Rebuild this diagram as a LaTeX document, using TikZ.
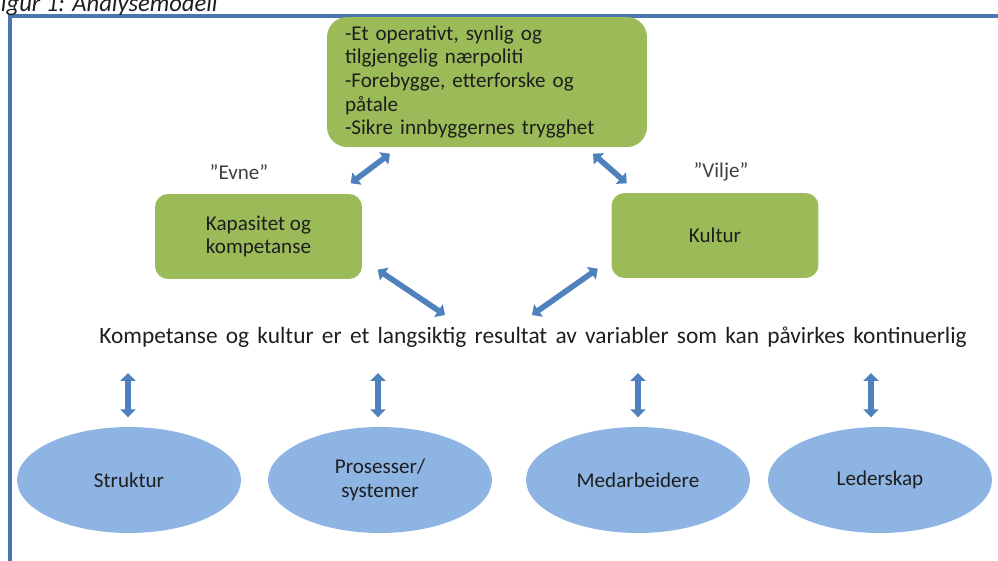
\documentclass[tikz,border=0pt]{standalone}
\usepackage{fontspec}
\setmainfont{Carlito}
\usepackage{xcolor}
\usetikzlibrary{arrows.meta,calc,shapes}
\definecolor{boxgreen}{HTML}{9BBB59}
\definecolor{arrowblue}{HTML}{4F81BD}
\definecolor{ovalblue}{HTML}{8DB4E2}
\definecolor{frameblue}{HTML}{4A76B0}
\definecolor{inktext}{HTML}{1E1E1E}
\tikzset{every scope/.style={>={Triangle[width=8.5pt,length=4.5pt]},thick}}
\tikzstyle{goal_box} =
  [ rectangle
  , rounded corners=0.4cm
  , fill=boxgreen
  , minimum width=6.4cm
  , minimum height=2.6cm
  , text width=5.68cm
  , align=left
  , text=inktext
  , font=\fontsize{12}{13.4}\selectfont
  ]
\tikzstyle{factor_box} =
  [ rectangle
  , rounded corners=0.26cm
  , fill=boxgreen
  , minimum width=4.14cm
  , minimum height=1.7cm
  , align=center
  , text=inktext
  , font=\fontsize{12}{13.4}\selectfont
  ]
\tikzstyle{variable_oval} =
  [ ellipse
  , fill=ovalblue
  , minimum width=4.48cm
  , minimum height=2.12cm
  , inner sep=0pt
  , align=center
  , text=inktext
  , font=\fontsize{12}{13.4}\selectfont
  ]
\tikzstyle{quote_label} =
  [ text=black!75
  , font=\fontsize{12}{13}\selectfont
  ]
\tikzstyle{fat_link} =
  [ <->
  , draw=arrowblue
  , line width=3.2pt
  ]
\def\GoalText{-Et operativt, synlig og\\tilgjengelig nærpoliti\\-Forebygge, etterforske og\\påtale\\-Sikre innbyggernes trygghet}
\def\ResultText{\spaceskip=4.7pt\relax Kompetanse og kultur er et langsiktig resultat av variabler som kan påvirkes kontinuerlig}

\begin{document}
\begin{tikzpicture}[x=0.02cm, y=-0.02cm]
    \useasboundingbox (0,0) rectangle (998,561);
    \draw[draw=frameblue, line width=2pt] (10,16) rectangle (1020,600);
    \node[anchor=base west, font=\fontsize{14}{15}\selectfont\itshape, text=inktext, inner sep=0pt] (caption) at (-11,11) {Figur 1: Analysemodell};

    \node[goal_box]   (goal)     at (487, 82)    {\GoalText};
    \node[factor_box] (capacity) at (258.5, 236.5) {Kapasitet og\\kompetanse};
    \node[factor_box] (culture)  at (715, 235.5)   {Kultur};
    \node[quote_label] (evne)  at (239, 172) {”Evne”};
    \node[quote_label] (vilje) at (721, 172) {”Vilje”};

    \node[text=inktext, font=\fontsize{13.3}{15}\selectfont, inner sep=0pt] (result) at (533, 337) {\ResultText};

    \draw[fat_link] ($(goal.south)+(-97,6)$) -- ($(capacity.north east)+(-12,-10)$);
    \draw[fat_link] ($(goal.south)+(106,6)$) -- ($(culture.north west)+(16,-9)$);
    \draw[fat_link] ($(capacity.south east)+(15,-10)$) -- ($(result.center)+(-88,-22)$);
    \draw[fat_link] ($(culture.south west)+(-13,-10)$) -- ($(result.center)+(-1,-22)$);

    \node[variable_oval] (struktur)     at (129, 480) {Struktur};
    \node[variable_oval] (prosesser)    at (380, 480) {Prosesser/\\systemer};
    \node[variable_oval] (medarbeidere) at (638, 480) {Medarbeidere};
    \node[variable_oval] (lederskap)    at (880, 480) {Lederskap};
    \foreach \oval/\dx in {struktur/-1, prosesser/-2, medarbeidere/0, lederskap/-9}
      \draw[fat_link] ($(\oval.north |- result.center)+(\dx,36)$) -- ($(\oval.north)+(\dx,-9)$);
  \end{tikzpicture}
\end{document}
